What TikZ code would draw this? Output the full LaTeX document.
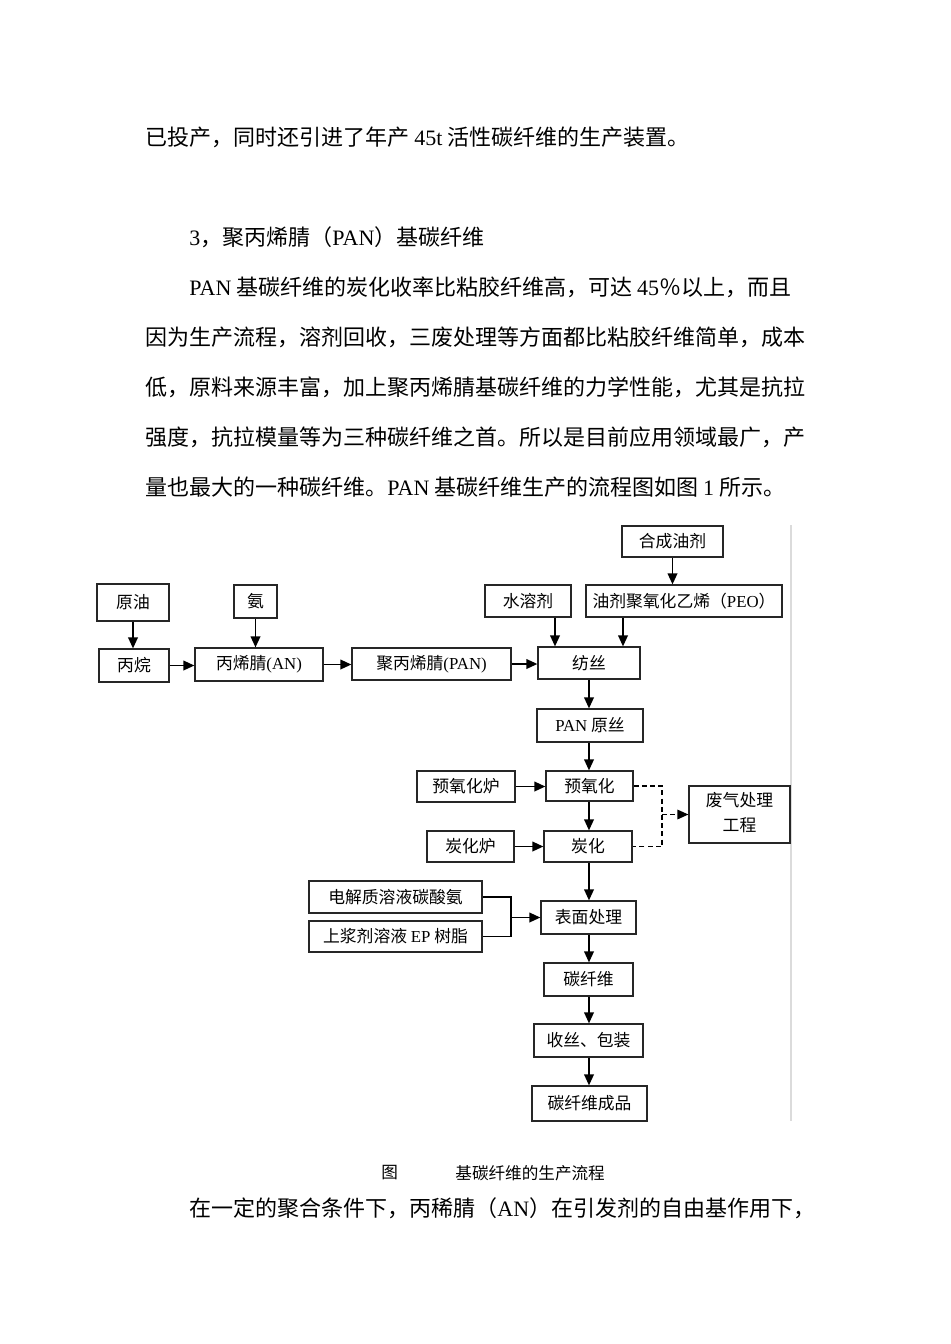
\documentclass[tikz,border=0pt]{standalone}
\usepackage{fontspec}
\setmainfont{Noto Sans CJK SC}
\newfontfamily\lat{Liberation Serif}
\usetikzlibrary{arrows.meta}
\newcommand\lt[1]{{\lat #1}}
\newcommand\bx[6]{\node[box, minimum width={(#4-#2)*0.5pt}, minimum height={(#5-#3)*0.5pt}] (#1) at ({(#2+#4)/2},{(#3+#5)/2}) {#6};}
\begin{document}
\begin{tikzpicture}[x=0.5pt,y=-0.5pt,
 box/.style={draw=black!85, line width=0.6pt, inner sep=0pt, font=\fontsize{8.4pt}{10pt}\selectfont},
 arr/.style={line width=0.85pt, -{Triangle[length=5.5pt,width=4.8pt]}},
 dsh/.style={line width=0.65pt, dash pattern=on 2.5pt off 1.6pt},
 body/.style={anchor=west, inner sep=0pt, font=\fontsize{11pt}{13pt}\selectfont},
 captxt/.style={anchor=west, inner sep=0pt, font=\fontsize{8.3pt}{10pt}\selectfont}]
\useasboundingbox[fill=white] (0,0) rectangle (950,1344);

% body text
\node[body] (t1) at (145,137) {已投产，同时还引进了年产 \lt{45t} 活性碳纤维的生产装置。};
\node[body] (t2) at (189,237) {\lt{3}，聚丙烯腈（\lt{PAN}）基碳纤维};
\node[body] (t3) at (189,287) {\lt{PAN} 基碳纤维的炭化收率比粘胶纤维高，可达 \lt{45}％以上，而且};
\node[body] (t4) at (145,337) {因为生产流程，溶剂回收，三废处理等方面都比粘胶纤维简单，成本};
\node[body] (t5) at (145,387) {低，原料来源丰富，加上聚丙烯腈基碳纤维的力学性能，尤其是抗拉};
\node[body] (t6) at (145,437) {强度，抗拉模量等为三种碳纤维之首。所以是目前应用领域最广，产};
\node[body] (t7) at (145,487) {量也最大的一种碳纤维。\lt{PAN} 基碳纤维生产的流程图如图 \lt{1} 所示。};

% page edge line
\coordinate (g1) at (791,525);
\coordinate (g2) at (791,1121);
\draw[black!14, line width=1pt] (g1) -- (g2);

% boxes
\bx{crude}{97}{584}{169}{621}{原油}
\bx{propane}{99}{649}{169}{682}{丙烷}
\bx{amm}{234}{585}{277}{618}{氨}
\bx{an}{195}{648}{323}{681}{丙烯腈\lt{(AN)}}
\bx{pan}{352}{648}{511}{680}{聚丙烯腈\lt{(PAN)}}
\bx{water}{485}{585}{571}{617}{水溶剂}
\bx{syn}{622}{526}{723}{557}{合成油剂}
\bx{peo}{586}{585}{782}{617}{油剂聚氧化乙烯（\lt{PEO}）}
\bx{spin}{538}{647}{640}{679}{纺丝}
\bx{raw}{537}{709}{643}{742}{\lt{PAN} 原丝}
\bx{pfur}{417}{771}{515}{802}{预氧化炉}
\bx{preox}{546}{771}{633}{801}{预氧化}
\bx{waste}{689}{786}{790}{843}{\begin{tabular}{@{}c@{}}废气处理\\[2.5pt]工程\end{tabular}}
\bx{cfur}{427}{831}{514}{862}{炭化炉}
\bx{carb}{544}{831}{632}{862}{炭化}
\bx{elec}{309}{881}{482}{913}{电解质溶液碳酸氨}
\bx{size}{309}{921}{482}{952}{上浆剂溶液 \lt{EP} 树脂}
\bx{surf}{541}{901}{636}{934}{表面处理}
\bx{cf}{544}{963}{633}{996}{碳纤维}
\bx{pack}{534}{1024}{643}{1057}{收丝、包装}
\bx{prod}{532}{1086}{647}{1121}{碳纤维成品}

% helper coordinates
\coordinate (xw) at (555,0);
\coordinate (xp) at (623,0);
\coordinate (xs) at (589,0);
\coordinate (dx) at (662,0);
\coordinate (bk) at (511,0);

% arrows
\draw[arr] (crude.south) -- (crude.south |- propane.north);
\draw[arr] (amm.south) -- (amm.south |- an.north);
\draw[arr] (propane.east) -- (propane.east -| an.west);
\draw[arr] (an.east) -- (an.east -| pan.west);
\draw[arr] (pan.east) -- (pan.east -| spin.west);
\draw[arr] (syn.south) -- (syn.south |- peo.north);
\draw[arr] (xw |- water.south) -- (xw |- spin.north);
\draw[arr] (xp |- peo.south) -- (xp |- spin.north);
\draw[arr] (xs |- spin.south) -- (xs |- raw.north);
\draw[arr] (xs |- raw.south) -- (xs |- preox.north);
\draw[arr] (pfur.east) -- (pfur.east -| preox.west);
\draw[arr] (xs |- preox.south) -- (xs |- carb.north);
\draw[arr] (cfur.east) -- (cfur.east -| carb.west);
\draw[arr] (xs |- carb.south) -- (xs |- surf.north);
\draw[arr] (xs |- surf.south) -- (xs |- cf.north);
\draw[arr] (xs |- cf.south) -- (xs |- pack.north);
\draw[arr] (xs |- pack.south) -- (xs |- prod.north);

% dashed waste gas
\draw[dsh] (preox.east) -- (preox.east -| dx) -- (carb.east -| dx) -- (carb.east);
\draw[dsh, -{Triangle[length=5.5pt,width=4.8pt]}] (dx |- waste.west) -- (waste.west);

% bracket to surface treatment
\draw[line width=0.6pt] (elec.east) -- (elec.east -| bk) -- (size.east -| bk) -- (size.east);
\draw[arr] (bk |- surf.west) -- (surf.west);

% caption
\node[captxt] (c1) at (381,1173) {图};
\node[captxt] (c2) at (455,1173) {基碳纤维的生产流程};

\node[body] (t8) at (189,1208) {在一定的聚合条件下，丙稀腈（\lt{AN}）在引发剂的自由基作用下，};
\end{tikzpicture}
\end{document}
